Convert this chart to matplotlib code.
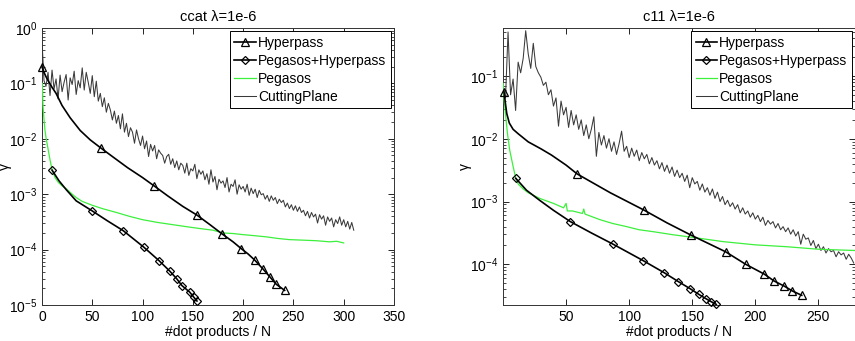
import numpy as np
import matplotlib
matplotlib.use('Agg')
import matplotlib.pyplot as plt
from matplotlib.ticker import LogLocator, NullFormatter, FixedLocator

plt.rcParams['font.family'] = ['Liberation Sans', 'DejaVu Sans']
plt.rcParams['mathtext.default'] = 'regular'
plt.rcParams['font.size'] = 10

# ---------------- data (gamma values stored as log10 exponents) ----------------
titles = ['ccat \u03bb=1e-6', 'c11 \u03bb=1e-6']
labels = ['Hyperpass', 'Pegasos+Hyperpass', 'Pegasos', 'CuttingPlane']

# ccat
ccat_hp_x = [0, 2, 4, 7, 10, 14, 20, 28, 38, 48, 58.3, 70, 85, 100, 111.4, 125, 140, 154.1,
             167, 179.3, 190, 198.2, 205, 211.5, 220.1, 227, 233, 241.3]
ccat_hp_log = [-0.703, -0.80, -0.88, -0.98, -1.07, -1.18, -1.40, -1.62, -1.85, -2.02, -2.163,
               -2.32, -2.52, -2.70, -2.849, -3.03, -3.22, -3.377, -3.55, -3.72, -3.86, -3.984,
               -4.08, -4.189, -4.357, -4.501, -4.627, -4.736]
ccat_hp_marks = [0, 10, 14, 17, 19, 21, 23, 24, 25, 26, 27]

ccat_ph_x = [10, 17, 24.2, 34, 49.7, 65, 80.9, 101.1, 116.4, 127.3, 133.9, 139.2, 146.8, 150.8, 154.1]
ccat_ph_log = [-2.566, -2.76, -2.92, -3.12, -3.299, -3.48, -3.66, -3.954, -4.20, -4.393, -4.525,
               -4.651, -4.766, -4.856, -4.928]
ccat_ph_marks = [0, 4, 6, 7, 8, 9, 10, 11, 12, 13, 14]

ccat_peg_x = [0.3, 1, 2, 3, 4, 5, 6, 8, 10, 13, 16, 20, 24, 30, 34, 40, 50, 60, 74, 87, 100, 115,
              130, 145, 157, 170, 180, 190, 200, 212, 223, 235, 246, 260, 273, 286, 293, 300]
ccat_peg_log = [-1.0, -1.4, -1.65, -1.85, -1.98, -2.08, -2.18, -2.38, -2.56, -2.70, -2.78, -2.85,
                -2.90, -3.00, -3.06, -3.13, -3.20, -3.26, -3.33, -3.40, -3.46, -3.51, -3.55, -3.59,
                -3.62, -3.65, -3.70, -3.71, -3.73, -3.75, -3.77, -3.80, -3.82, -3.83, -3.84, -3.86,
                -3.85, -3.88]

ccat_cp_x0, ccat_cp_dx = 0, 2
ccat_cp_log = [
    -0.22, -0.95, -1.05, -0.80, -1.22, -0.76, -1.10, -0.92, -1.28, -0.85,
    -1.15, -0.98, -0.84, -1.30, -0.90, -1.02, -0.78, -1.20, -0.95, -1.08,
    -0.72, -1.12, -0.80, -0.98, -1.18, -0.86, -1.24, -0.96, -1.32, -1.18,
    -1.42, -1.26, -1.52, -1.36, -1.48, -1.66, -1.50, -1.72, -1.58, -1.82,
    -1.55, -1.88, -1.72, -1.96, -1.80, -1.88, -2.08, -1.84, -2.00, -2.12,
    -1.95, -2.18, -2.04, -2.32, -2.10, -2.22, -2.12, -2.36, -2.20, -2.26,
    -2.30, -2.44, -2.32, -2.28, -2.46, -2.36, -2.52, -2.40, -2.56, -2.44,
    -2.48, -2.62, -2.44, -2.66, -2.54, -2.58, -2.46, -2.72, -2.56, -2.64,
    -2.58, -2.74, -2.63, -2.82, -2.56, -2.78, -2.68, -2.92, -2.73, -2.80,
    -2.76, -2.88, -2.70, -2.96, -2.82, -2.86, -2.74, -3.00, -2.83, -2.91,
    -2.86, -2.96, -2.82, -3.02, -2.89, -2.99, -2.91, -3.06, -2.93, -3.01,
    -2.99, -3.09, -3.02, -3.13, -3.03, -3.11, -3.06, -3.17, -3.09, -3.15,
    -3.11, -3.23, -3.16, -3.26, -3.19, -3.29, -3.21, -3.31, -3.23, -3.33,
    -3.29, -3.39, -3.31, -3.43, -3.33, -3.41, -3.36, -3.52, -3.37, -3.45,
    -3.39, -3.56, -3.41, -3.49, -3.43, -3.59, -3.46, -3.53, -3.41, -3.56,
    -3.46, -3.59, -3.49, -3.63, -3.51, -3.65]

# c11
c11_hp_x = [0.8, 2, 3, 5, 8, 12, 20, 30, 38.4, 50, 58.8, 85, 111.6, 130, 148.8, 163, 176.4,
            192.4, 207, 214.9, 222.8, 229.4, 236.8]
c11_hp_log = [-1.25, -1.45, -1.60, -1.75, -1.85, -1.92, -2.05, -2.16, -2.26, -2.42, -2.561,
              -2.86, -3.135, -3.34, -3.533, -3.67, -3.80, -4.0, -4.155, -4.266, -4.346, -4.425,
              -4.494]
c11_hp_marks = [0, 10, 12, 14, 16, 17, 18, 19, 20, 21, 22]

c11_ph_x = [10.1, 18.6, 29, 40, 53.4, 70, 87.3, 111.0, 127.7, 139.1, 148.3, 155.2, 160.8, 165, 169]
c11_ph_log = [-2.63, -2.82, -2.98, -3.14, -3.32, -3.50, -3.68, -3.94, -4.133, -4.277, -4.388,
              -4.478, -4.547, -4.595, -4.638]
c11_ph_marks = [0, 4, 6, 7, 8, 9, 10, 11, 12, 13, 14]

c11_peg_x = [0.2, 0.9, 1.9, 3.5, 5.3, 8, 10, 12, 16, 20, 29, 40, 48, 50, 51, 55, 63, 64, 65, 77,
             87, 98, 108, 119, 135, 150, 175, 200, 225, 250, 279]
c11_peg_log = [-1.12, -1.38, -1.59, -1.91, -2.18, -2.44, -2.62, -2.72, -2.80, -2.86, -2.95, -3.03,
               -3.10, -3.03, -3.15, -3.15, -3.19, -3.12, -3.20, -3.29, -3.35, -3.40, -3.45, -3.48,
               -3.53, -3.57, -3.64, -3.69, -3.72, -3.76, -3.78]

c11_cp_x0, c11_cp_dx = 2, 2
c11_cp_log = [
    -1.35, -0.30, -1.30, -1.05, -1.55, -0.78, -0.95, -0.72, -0.28, -0.65,
    -0.88, -0.48, -0.85, -0.95, -1.02, -1.15, -1.10, -1.30, -1.22, -1.48,
    -1.35, -1.80, -1.40, -1.62, -1.50, -1.82, -1.55, -1.78, -1.62, -1.85,
    -1.70, -1.95, -1.78, -2.00, -1.85, -1.65, -2.28, -1.90, -2.10, -1.95,
    -2.15, -2.00, -2.20, -2.05, -2.25, -2.08, -1.88, -2.20, -2.12, -2.30,
    -2.15, -2.28, -2.18, -2.35, -2.22, -2.32, -2.25, -2.40, -2.30, -2.42,
    -2.35, -2.48, -2.38, -2.52, -2.42, -2.55, -2.45, -2.60, -2.50, -2.62,
    -2.55, -2.68, -2.58, -2.78, -2.62, -2.72, -2.68, -2.82, -2.72, -2.85,
    -2.78, -2.90, -2.80, -2.95, -2.85, -3.00, -2.92, -3.05, -2.98, -3.08,
    -3.02, -3.12, -3.05, -3.18, -3.10, -3.20, -3.15, -3.25, -3.18, -3.28,
    -3.22, -3.32, -3.25, -3.38, -3.30, -3.36, -3.32, -3.42, -3.35, -3.45,
    -3.40, -3.48, -3.42, -3.52, -3.45, -3.55, -3.48, -3.68, -3.52, -3.60,
    -3.58, -3.70, -3.62, -3.75, -3.68, -3.78, -3.72, -3.82, -3.75, -3.80,
    -3.78, -3.88, -3.80, -3.85, -3.82, -3.92, -3.84, -3.90, -3.98]

panels = [
    dict(title=titles[0], hp=(ccat_hp_x, ccat_hp_log, ccat_hp_marks),
         ph=(ccat_ph_x, ccat_ph_log, ccat_ph_marks), peg=(ccat_peg_x, ccat_peg_log),
         cp=(ccat_cp_x0, ccat_cp_dx, ccat_cp_log),
         xlim=(0, 350), xticks=[0, 50, 100, 150, 200, 250, 300, 350], ylim=(1e-5, 1.0),
         ylab_x=-0.084),
    dict(title=titles[1], hp=(c11_hp_x, c11_hp_log, c11_hp_marks),
         ph=(c11_ph_x, c11_ph_log, c11_ph_marks), peg=(c11_peg_x, c11_peg_log),
         cp=(c11_cp_x0, c11_cp_dx, c11_cp_log),
         xlim=(0, 279), xticks=[50, 100, 150, 200, 250], ylim=(2.25e-5, 0.58),
         ylab_x=-0.088),
]

fig = plt.figure(figsize=(8.55, 3.41), dpi=100)
axes = [fig.add_axes([0.0491, 0.1056, 0.4117, 0.8123]),
        fig.add_axes([0.5883, 0.1056, 0.4117, 0.8123])]

green = '#3cf03c'
for ax, p in zip(axes, panels):
    hx, hl, hm = p['hp']
    px, pl, pm = p['ph']
    gx, gl = p['peg']
    cx0, cdx, cl = p['cp']
    cx = cx0 + cdx * np.arange(len(cl))
    ax.set_yscale('log')
    l1, = ax.plot(hx, 10 ** np.array(hl), color='black', lw=1.2, marker='^', ms=6,
                  mfc='none', mec='black', mew=0.9, markevery=hm, clip_on=False, zorder=4)
    l2, = ax.plot(px, 10 ** np.array(pl), color='black', lw=1.2, marker='D', ms=4.5,
                  mfc='none', mec='black', mew=0.9, markevery=pm, clip_on=False, zorder=4)
    l3, = ax.plot(gx, 10 ** np.array(gl), color=green, lw=0.9, zorder=3)
    l4, = ax.plot(cx, 10 ** np.array(cl), color='#3a3a3a', lw=0.75, zorder=2)
    ax.set_xlim(*p['xlim'])
    ax.set_ylim(*p['ylim'])
    ax.xaxis.set_major_locator(FixedLocator(p['xticks']))
    ax.yaxis.set_major_locator(LogLocator(base=10, numticks=10))
    ax.yaxis.set_minor_locator(LogLocator(base=10, subs=np.arange(2, 10), numticks=20))
    ax.yaxis.set_minor_formatter(NullFormatter())
    ax.tick_params(which='both', direction='in', top=True, right=True, labelsize=10,
                   colors='black')
    ax.tick_params(which='major', length=4, width=0.6)
    ax.tick_params(which='minor', length=2, width=0.5)
    for s in ax.spines.values():
        s.set_color('#333333')
        s.set_linewidth(0.7)
    ax.set_title(p['title'], fontsize=10.5, pad=5)
    ax.set_xlabel('#dot products / N', fontsize=10, labelpad=1)
    ax.set_ylabel('\u03b3', fontsize=10)
    ax.yaxis.set_label_coords(p['ylab_x'], 0.5)
    leg = ax.legend([l1, l2, l3, l4], labels, loc='upper right', bbox_to_anchor=(1, 1),
                    borderaxespad=0.25, fontsize=10, handlelength=1.55, handletextpad=0.15,
                    labelspacing=0.3, borderpad=0.3, numpoints=1, fancybox=False,
                    framealpha=1, edgecolor='black')
    leg.get_frame().set_linewidth(0.7)

fig.savefig('out.png', dpi=100)
